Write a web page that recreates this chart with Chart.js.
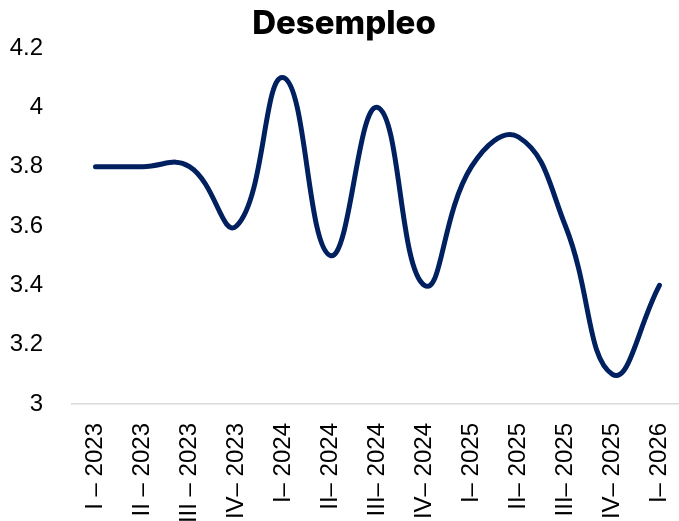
<!DOCTYPE html>
<html>
<head>
<meta charset="utf-8">
<script src="https://cdn.jsdelivr.net/npm/chart.js@4/dist/chart.umd.min.js"></script>
<style>
    html, body { margin: 0; padding: 0; background: #fff; overflow: hidden; }
    .chart-box { position: relative; width: 708px; height: 521px; }
</style>
</head>
<body>
<div class="chart-box">
    <canvas id="desempleoChart" width="708" height="521"></canvas>
</div>
<script>
// DATOS
const periodos = [
    'I – 2023', 'II – 2023', 'III – 2023', 'IV– 2023',
    'I– 2024', 'II– 2024', 'III– 2024', 'IV– 2024',
    'I– 2025', 'II– 2025', 'III– 2025', 'IV– 2025',
    'I– 2026'
];
const desempleo = [3.8, 3.8, 3.8, 3.6, 4.1, 3.5, 4.0, 3.4, 3.8, 3.9, 3.6, 3.1, 3.4];
const yMin = 3;
const yMax = 4.2;
const yStep = 0.2;

function createDesempleoChart() {
    const ctx = document.getElementById('desempleoChart');
    if (!ctx) return;

    new Chart(ctx, {
        type: 'line',
        data: {
            labels: periodos,
            datasets: [{
                label: 'Desempleo',
                data: desempleo,
                borderColor: '#002060',
                borderWidth: 5,
                borderCapStyle: 'round',
                borderJoinStyle: 'round',
                tension: 0.45,
                pointRadius: 0,
                fill: false
            }]
        },
        options: {
            responsive: false,
            animation: false,
            // canvas is wider than the window: the right part is cut off like in the original
            layout: {
                padding: { left: 0, right: 20, top: 0, bottom: 0 }
            },
            plugins: {
                legend: { display: false },
                tooltip: { enabled: false },
                title: {
                    display: true,
                    text: 'Desempleo',
                    color: '#000',
                    font: { family: 'Inter', size: 33, weight: '800' },
                    padding: { top: 4, bottom: 4.4 }
                }
            },
            scales: {
                x: {
                    offset: true,
                    grid: { display: false, drawTicks: false },
                    border: { display: true, color: '#d9d9d9', width: 1.5 },
                    ticks: {
                        color: '#000',
                        minRotation: 90,
                        maxRotation: 90,
                        autoSkip: false,
                        padding: 19,
                        font: { family: 'Liberation Sans', size: 24 }
                    },
                    afterFit: function(scale) {
                        scale.height = 117;
                    }
                },
                y: {
                    min: yMin,
                    max: yMax,
                    grid: { display: false, drawTicks: false },
                    border: { display: false },
                    ticks: {
                        stepSize: yStep,
                        color: '#000',
                        padding: 29,
                        font: { family: 'Liberation Sans', size: 24 },
                        callback: function(value) {
                            return String(Math.round(value * 10) / 10);
                        }
                    },
                    afterFit: function(scale) {
                        scale.width = 72;
                    }
                }
            }
        }
    });
}

createDesempleoChart();
</script>
</body>
</html>
